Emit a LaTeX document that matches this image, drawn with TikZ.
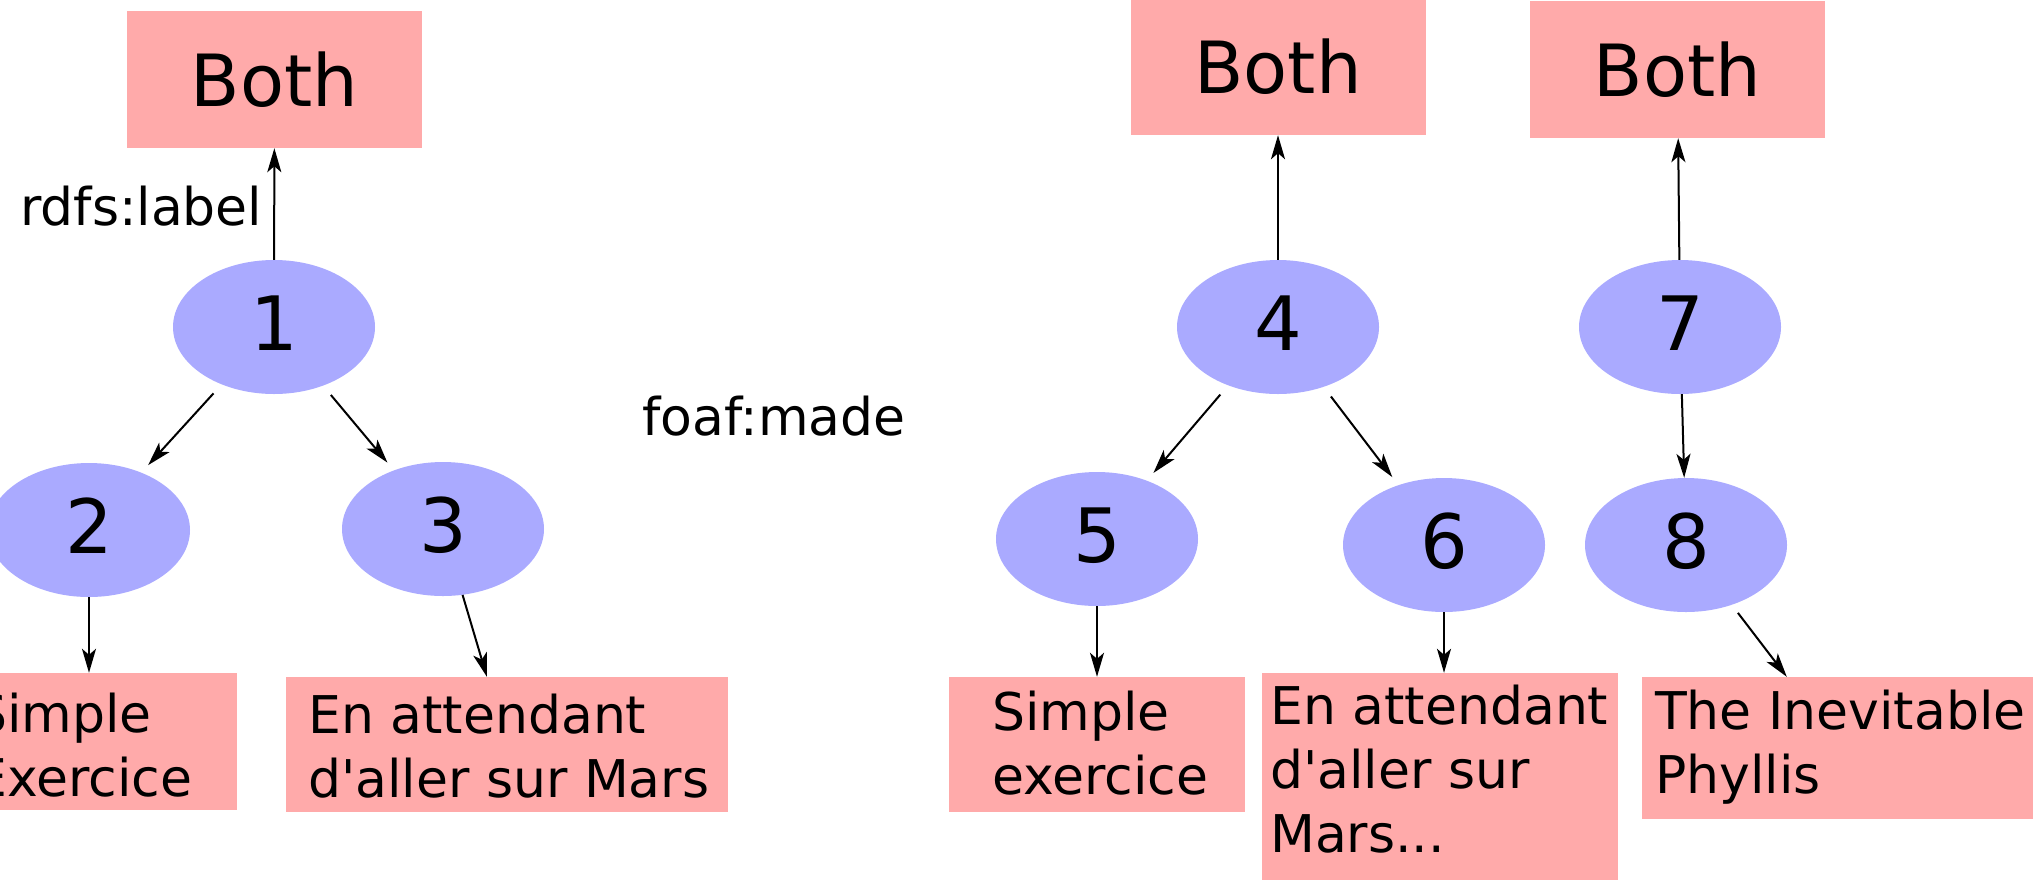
\documentclass[tikz,border=0pt]{standalone}
\usepackage{fontspec}
\setmainfont{DejaVu Sans}
\usetikzlibrary{shapes.geometric,arrows.meta}
\definecolor{boxpink}{HTML}{FFAAAA}
\definecolor{ellblue}{HTML}{AAAAFF}
\begin{document}
\begin{tikzpicture}[x=1pt,y=-1pt,
  lit/.style={rectangle, fill=boxpink, inner sep=0pt},
  bothbox/.style={lit, minimum width=295pt, minimum height=137pt, font=\fontsize{72}{86}\selectfont},
  res/.style={ellipse, fill=ellblue, minimum width=202pt, minimum height=134pt, inner sep=0pt,
    text height=55pt, text depth=8pt, font=\fontsize{75}{90}\selectfont},
  txt/.style={anchor=north west, inner sep=0pt, align=left, font=\fontsize{52}{64}\selectfont},
  edgelbl/.style={anchor=base west, inner sep=0pt, font=\fontsize{52}{64}\selectfont},
  arr/.style={-{Stealth[length=24pt,width=14pt,inset=6pt]}, line width=2pt, black},
  gap/.style={shorten <=12pt, shorten >=10pt}
]
\useasboundingbox (0,0) rectangle (2033,879);
\clip (0,0) rectangle (2033,879);
\fill[white] (0,0) rectangle (2033,879);

% top literal boxes
\node[bothbox] (b1) at (274.5,79.5) {Both};
\node[bothbox] (b4) at (1278,66.5) {Both};
\node[bothbox] (b7) at (1677.5,69.5) {Both};

% bottom literal boxes
\node[lit, minimum width=305pt, minimum height=137pt] (box2) at (84.5,741.5) {};
\node[lit, minimum width=442pt, minimum height=135pt] (box3) at (507,744.5) {};
\node[lit, minimum width=296pt, minimum height=135pt] (box5) at (1097,744.5) {};
\node[lit, minimum width=356pt, minimum height=217pt] (box6) at (1440,781.5) {};
\node[lit, minimum width=398pt, minimum height=142pt] (box8) at (1841,748) {};

\node[txt] (t2) at (-26,692) {\rule{0pt}{40pt}Simple\\Exercice};
\node[txt] (t3) at (308,693) {\rule{0pt}{40pt}En attendant\\d\textquotesingle aller sur Mars};
\node[txt] (t5) at (992,690) {\rule{0pt}{40pt}Simple\\exercice};
\node[txt] (t6) at (1270,684) {\rule{0pt}{40pt}En attendant\\d\textquotesingle aller sur\\Mars...};
\node[txt] (t8) at (1655,689) {\rule{0pt}{40pt}The Inevitable\\Phyllis};

% resource ellipses
\node[res] (e1) at (274,327) {1};
\node[res] (e2) at (89,530) {2};
\node[res] (e3) at (443,529) {3};
\node[res] (e4) at (1278,327) {4};
\node[res] (e5) at (1097,539) {5};
\node[res] (e6) at (1444,545) {6};
\node[res] (e7) at (1680,327) {7};
\node[res] (e8) at (1686,545) {8};

% edge labels
\node[edgelbl] (l1) at (20,225) {rdfs:label};
\node[edgelbl] (l2) at (642,435) {foaf:made};

% edges
\draw[arr] (e1) -- (b1);
\draw[arr,gap] (e1) -- (e2);
\draw[arr,gap] (e1) -- (e3);
\draw[arr] (e2.south) -- (e2.south |- box2.north);
\draw[arr] (e3) -- (box3);

\draw[arr] (e4) -- (b4);
\draw[arr,gap] (e4) -- (e5);
\draw[arr,gap] (e4) -- (e6);
\draw[arr] (e5) -- (box5);
\draw[arr] (e6.south) -- (e6.south |- box6.north);

\draw[arr] (e7) -- (b7);
\draw[arr] (e7) -- (e8);
\draw[arr,shorten <=10pt] (e8) -- (box8);
\end{tikzpicture}
\end{document}
